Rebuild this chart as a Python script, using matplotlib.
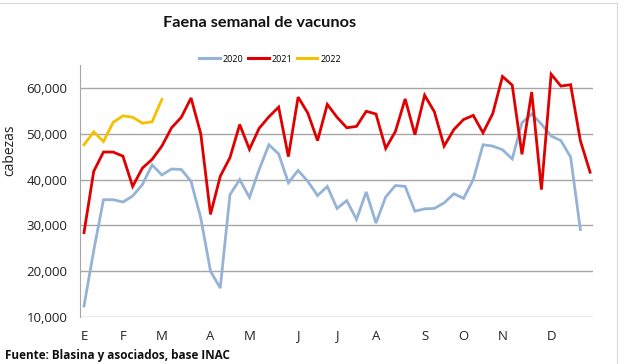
import matplotlib
matplotlib.use("Agg")
import matplotlib.pyplot as plt
from matplotlib.ticker import FuncFormatter
from matplotlib.lines import Line2D

title = "Faena semanal de vacunos"
ylabel = "cabezas"
source = "Fuente: Blasina y asociados, base INAC"

series_names = ["2020", "2021", "2022"]
vals_2020 = [12400, 24500, 35600, 35600, 35100, 36400, 38900, 43200, 41000, 42300,
             42200, 39600, 31600, 20000, 16300, 36700, 40000, 36100, 42200, 47600,
             45600, 39300, 42000, 39600, 36500, 38500, 33700, 35400, 31300, 37300,
             30500, 36200, 38700, 38500, 33100, 33600, 33700, 34900, 36900, 35900,
             40000, 47600, 47300, 46500, 44500, 52400, 54300, 52100, 49500, 48500,
             44900, 29100]
vals_2021 = [28400, 41800, 46000, 46000, 45100, 38500, 42500, 44400, 47300, 51300,
             53600, 57800, 50000, 32400, 40700, 44800, 52000, 46600, 51200, 53700,
             55800, 45000, 58000, 54500, 48500, 56400, 53600, 51300, 51600, 54900,
             54300, 46800, 50500, 57600, 49800, 58400, 54800, 47300, 50900, 53100,
             54000, 50200, 54400, 62500, 60600, 45500, 59100, 37800, 63000, 60400,
             60700, 48500, 41600]
vals_2022 = [47600, 50400, 48300, 52500, 53900, 53600, 52300, 52600, 57500]

month_labels = ["E", "F", "M", "A", "M", "J", "J", "A", "S", "O", "N", "D"]
month_weeks = [0, 4, 8, 13, 17, 22, 26, 30, 35, 39, 43, 48]
y_ticks = [10000, 20000, 30000, 40000, 50000, 60000]

colors = ["#95B3D7", "#E00000", "#F5C000"]
FONT = "Open Sans"

fig = plt.figure(figsize=(6.4, 3.64), dpi=100)
ax = fig.add_axes([80/640, 1-317/364, (593-80)/640, (317-65)/364])

for name, vals, c in zip(series_names, [vals_2020, vals_2021, vals_2022], colors):
    ax.plot(range(len(vals)), vals, color=c, lw=2.0, label=name,
            solid_joinstyle="miter")

ax.set_xlim(-0.41, 52.3)
ax.set_ylim(10000, 65000)
ax.set_yticks(y_ticks)
ax.yaxis.set_major_formatter(FuncFormatter(lambda v, p: f"{int(v):,}"))
ax.set_xticks(month_weeks)
ax.set_xticklabels(month_labels)
ax.tick_params(length=0, labelsize=9.5, colors="#222222")
ax.tick_params(axis="x", pad=9)
ax.tick_params(axis="y", pad=9)
for lab in ax.get_xticklabels() + ax.get_yticklabels():
    lab.set_fontfamily(FONT)
ax.grid(axis="y", color="#a6a6a6", lw=1.0)
ax.set_axisbelow(True)
for s in ["top", "right", "bottom"]:
    ax.spines[s].set_visible(False)
ax.spines["left"].set_color("#a6a6a6")

fig.text(10/640, 1-150/364, ylabel, rotation=90, ha="center", va="center",
         fontsize=10, family=FONT, color="#222222")
fig.text(260/640, 1-23/364, title, ha="center", va="center", fontsize=11.8,
         fontweight="bold", family="Lato", color="#111111")
fig.text(5/640, 1-355/364, source, ha="left", va="center", fontsize=8.5,
         fontweight="bold", family=FONT, color="#111111")

handles = [Line2D([0], [0], color=c, lw=2.2) for c in colors]
leg = fig.legend(handles, series_names, loc="center", bbox_to_anchor=(270/640, 1-59/364),
                 ncol=3, frameon=False, prop={"family": FONT, "size": 6.5},
                 handlelength=2.3, handletextpad=0.3, columnspacing=0.5)

# outer chart border lines
fig.add_artist(Line2D([617/640, 617/640], [0, 1-3/364], color="#d9d9d9", lw=0.8))
fig.add_artist(Line2D([0, 617/640], [1-3/364, 1-3/364], color="#d9d9d9", lw=0.8))

fig.savefig("out.png", dpi=100)
